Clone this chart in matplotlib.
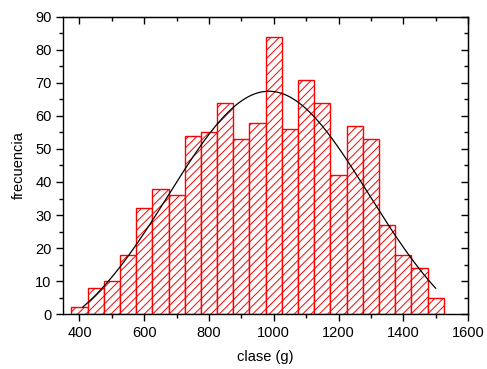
import matplotlib
matplotlib.use('Agg')
import matplotlib.pyplot as plt
import numpy as np
from matplotlib.ticker import MultipleLocator

# bin centres (g) and counts
clases = [400, 450, 500, 550, 600, 650, 700, 750, 800, 850, 900, 950,
          1000, 1050, 1100, 1150, 1200, 1250, 1300, 1350, 1400, 1450, 1500]
frecuencia = [2, 8, 10, 18, 32, 38, 36, 54, 55, 64, 53, 58,
              84, 56, 71, 64, 42, 57, 53, 27, 18, 14, 5]
ancho = 50

# gaussian fit parameters (estimated from the drawn curve)
xc, sigma, amp, y0 = 985, 309, 79.5, -12
x_min_fit, x_max_fit = 410, 1500

plt.rcParams['font.family'] = ['Liberation Sans', 'DejaVu Sans']
plt.rcParams['hatch.linewidth'] = 0.7

fig = plt.figure(figsize=(4.87, 3.69), dpi=100)
ax = fig.add_axes([0.130, 0.149, 0.831, 0.805])

ax.bar(clases, frecuencia, width=ancho, color='white', edgecolor='red',
       linewidth=1.0, hatch='////')

xf = np.linspace(x_min_fit, x_max_fit, 300)
ax.plot(xf, y0 + amp * np.exp(-(xf - xc) ** 2 / (2 * sigma ** 2)), color='black', lw=0.9)

ax.set_xlim(350, 1600)
ax.set_ylim(0, 90)

# bottom/left ticks outward, top/right ticks inward (mirror axes)
top = ax.secondary_xaxis('top')
right = ax.secondary_yaxis('right')
for a in (ax.xaxis, top.xaxis):
    a.set_major_locator(MultipleLocator(200))
    a.set_minor_locator(MultipleLocator(100))
for a in (ax.yaxis, right.yaxis):
    a.set_major_locator(MultipleLocator(10))
    a.set_minor_locator(MultipleLocator(5))

ax.tick_params(which='both', direction='out', labelsize=10.5, width=1)
for sec in (top, right):
    sec.tick_params(which='both', direction='in', width=1,
                    labeltop=False, labelright=False)
    sec.tick_params(which='major', length=5)
    sec.tick_params(which='minor', length=3)
ax.tick_params(which='major', length=5)
ax.tick_params(which='minor', length=3)

for s in ax.spines.values():
    s.set_linewidth(1)

ax.set_xlabel('clase (g)', fontsize=10.5, labelpad=7)
ax.set_ylabel('frecuencia', fontsize=10.5, labelpad=7)

fig.savefig('out.png', dpi=100)
